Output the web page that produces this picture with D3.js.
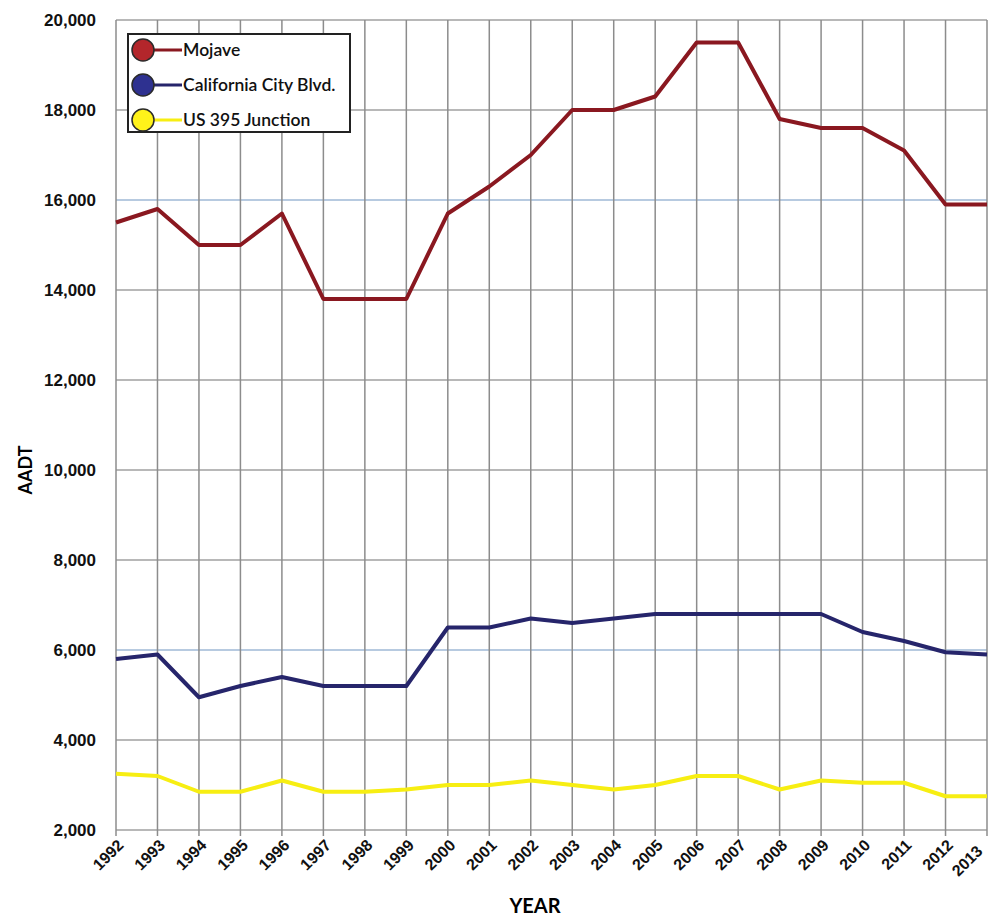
<!DOCTYPE html>
<html>
<head>
<meta charset="utf-8">
<script src="https://cdn.jsdelivr.net/npm/d3@7"></script>
<style>
  body { margin: 0; background: #fff; }
  svg { font-family: Lato, "Open Sans", sans-serif; }
</style>
</head>
<body>
<div class="chart"></div>
<script>
// data
const years = [1992, 1993, 1994, 1995, 1996, 1997, 1998, 1999, 2000, 2001, 2002,
               2003, 2004, 2005, 2006, 2007, 2008, 2009, 2010, 2011, 2012, 2013];
const mojave = [15500, 15800, 15000, 15000, 15700, 13800, 13800, 13800, 15700, 16300, 17000,
                18000, 18000, 18300, 19500, 19500, 17800, 17600, 17600, 17100, 15900, 15900];
const calCity = [5800, 5900, 4950, 5200, 5400, 5200, 5200, 5200, 6500, 6500, 6700,
                 6600, 6700, 6800, 6800, 6800, 6800, 6800, 6400, 6200, 5950, 5900];
const us395 = [3250, 3200, 2850, 2850, 3100, 2850, 2850, 2900, 3000, 3000, 3100,
               3000, 2900, 3000, 3200, 3200, 2900, 3100, 3050, 3050, 2750, 2750];
const seriesNames = ['Mojave', 'California City Blvd.', 'US 395 Junction'];
const yTicks = [2000, 4000, 6000, 8000, 10000, 12000, 14000, 16000, 18000, 20000];

const series = [
    { name: seriesNames[0], values: mojave, line: '#8a1820', dot: '#b3262b' },
    { name: seriesNames[1], values: calCity, line: '#26256b', dot: '#2e3190' },
    { name: seriesNames[2], values: us395, line: '#f7ee12', dot: '#fff21a' }
];

let margin = { top: 20, right: 1, bottom: 93, left: 116 };

let svg = d3.select('.chart')
    .append('svg')
    .attr('width', 989)
    .attr('height', 923);

let g = svg.append('g')
    .attr('transform', 'translate(' + margin.left + ',' + margin.top + ')');

let x = d3.scaleLinear().domain([1992, 2013]).range([0, 871]);
let y = d3.scaleLinear().domain([2000, 20000]).range([810, 0]);

// horizontal grid (a couple of lines came out bluish in the scan)
g.selectAll('.hgrid')
    .data(yTicks)
    .enter().append('line')
    .attr('x1', 0).attr('x2', x(2013))
    .attr('y1', d => y(d)).attr('y2', d => y(d))
    .style('stroke', d => (d === 16000 || d === 6000) ? '#9fb9d6' : '#a0a0a0')
    .style('stroke-width', 1.3);

// vertical grid
g.selectAll('.vgrid')
    .data(years)
    .enter().append('line')
    .attr('x1', d => x(d)).attr('x2', d => x(d))
    .attr('y1', 0).attr('y2', y(2000) + 6)
    .style('stroke', '#8c8c8c')
    .style('stroke-width', 1.5);

// Y axis labels
let yAxis = d3.axisLeft(y).tickValues(yTicks).tickFormat(d3.format(',')).tickSize(0).tickPadding(20);
g.append('g')
    .call(yAxis)
    .call(s => s.select('.domain').remove())
    .selectAll('text')
    .style('font-size', '17px')
    .style('font-weight', '600')
    .style('fill', '#111');

// X axis labels, rotated (last one nudged in so it stays on the page)
let xAxis = d3.axisBottom(x).tickValues(years).tickFormat(d3.format('d')).tickSize(0);
g.append('g')
    .attr('transform', 'translate(0,' + y(2000) + ')')
    .call(xAxis)
    .call(s => s.select('.domain').remove())
    .selectAll('text')
    .attr('text-anchor', 'end')
    .attr('dy', 0)
    .attr('transform', d => 'translate(' + (d === 2013 ? -6 : 6) + ',' + (d === 2013 ? 20 : 14) + ') rotate(-45)')
    .style('font-size', '16px')
    .style('font-weight', '600')
    .style('fill', '#111');

// lines
let line = d3.line()
    .x((d, i) => x(years[i]))
    .y(d => y(d));

series.forEach(s => {
    g.append('path')
        .datum(s.values)
        .attr('d', line)
        .style('fill', 'none')
        .style('stroke', s.line)
        .style('stroke-width', 4)
        .style('stroke-linejoin', 'round');
});

// legend
let legend = svg.append('g').attr('transform', 'translate(128,34)');
legend.append('rect')
    .attr('width', 222).attr('height', 98)
    .style('fill', '#fff')
    .style('stroke', '#222')
    .style('stroke-width', 2);

let rows = legend.selectAll('.row')
    .data(series)
    .enter().append('g')
    .attr('transform', (d, i) => 'translate(0,' + (16 + i * 35) + ')');
rows.append('line')
    .attr('x1', 15).attr('x2', 54)
    .style('stroke', d => d.line)
    .style('stroke-width', 3);
rows.append('circle')
    .attr('cx', 15).attr('r', 11)
    .style('fill', d => d.dot)
    .style('stroke', '#2a2a2a')
    .style('stroke-width', 1.5);
rows.append('text')
    .attr('x', 55).attr('dy', '0.35em')
    .style('font-size', '17.5px')
    .style('font-weight', '600')
    .style('fill', '#111')
    .text(d => d.name);

// axis titles
svg.append('text')
    .attr('text-anchor', 'middle')
    .attr('transform', 'translate(32,' + (margin.top + y(10000)) + ') rotate(-90)')
    .style('font-size', '18px')
    .style('font-weight', 'bold')
    .text('AADT');

svg.append('text')
    .attr('text-anchor', 'middle')
    .attr('x', 535).attr('y', 913)
    .style('font-size', '20px')
    .style('font-weight', 'bold')
    .text('YEAR');
</script>
</body>
</html>
